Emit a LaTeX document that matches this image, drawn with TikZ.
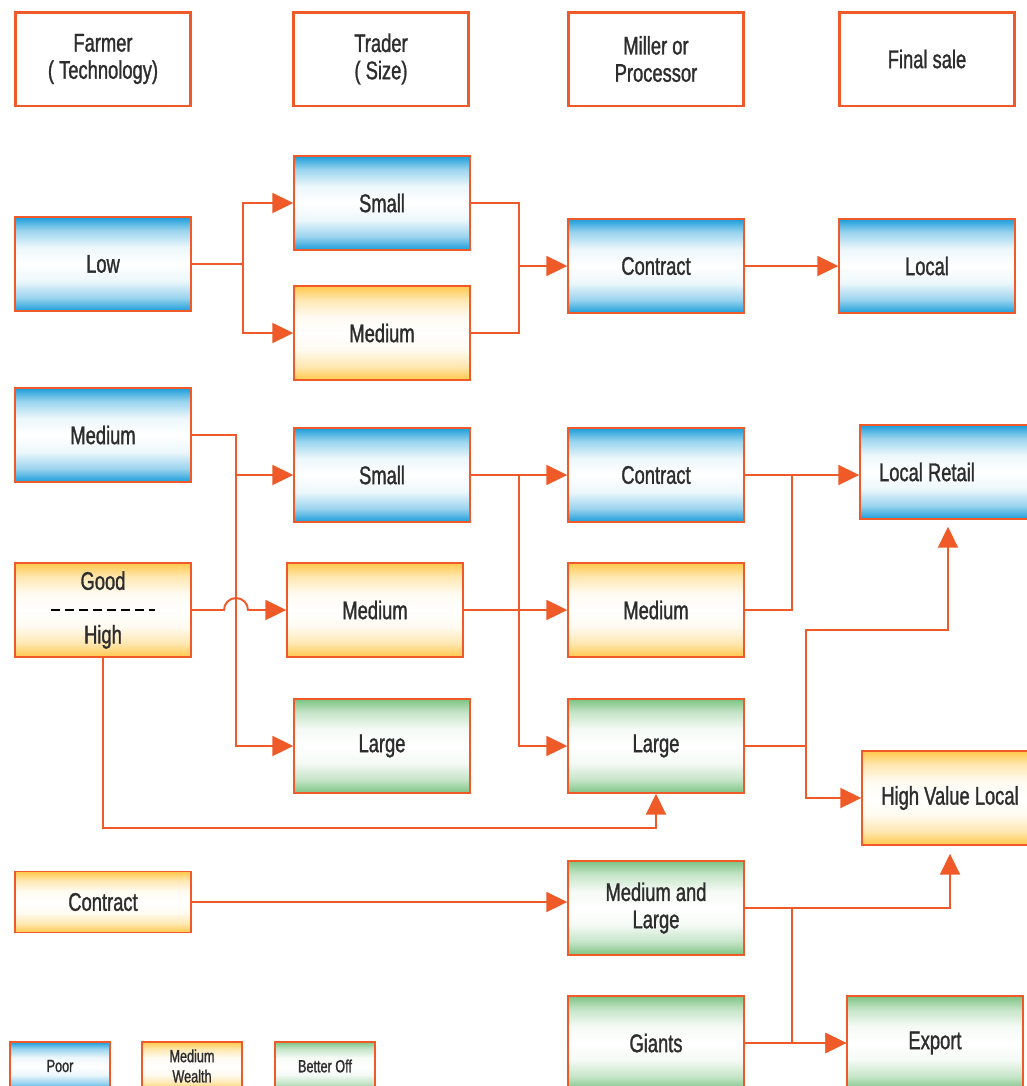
\documentclass[tikz,border=0pt]{standalone}
\usepackage{fontspec}
\setmainfont{Liberation Sans}[FakeStretch=0.72, FakeBold=1.2]
\usepackage{xcolor}
\usetikzlibrary{arrows.meta,positioning}
\definecolor{linkorange}{RGB}{240,90,40}
\definecolor{poorblue}{RGB}{27,157,217}
\definecolor{wealthgold}{RGB}{255,200,74}
\definecolor{betteroff}{RGB}{125,195,131}
\definecolor{textgray}{RGB}{45,45,45}

\pgfdeclareverticalshading{poorshade}{100bp}{color(0bp)=(poorblue); color(25bp)=(poorblue); color(32bp)=(poorblue!45); color(41bp)=(poorblue!8); color(50bp)=(white); color(59bp)=(poorblue!8); color(68bp)=(poorblue!45); color(75bp)=(poorblue); color(100bp)=(poorblue)}
\pgfdeclareverticalshading{wealthshade}{100bp}{color(0bp)=(wealthgold); color(25bp)=(wealthgold); color(32bp)=(wealthgold!45); color(41bp)=(wealthgold!8); color(50bp)=(white); color(59bp)=(wealthgold!8); color(68bp)=(wealthgold!45); color(75bp)=(wealthgold); color(100bp)=(wealthgold)}
\pgfdeclareverticalshading{bettershade}{100bp}{color(0bp)=(betteroff); color(25bp)=(betteroff); color(32bp)=(betteroff!45); color(41bp)=(betteroff!8); color(50bp)=(white); color(59bp)=(betteroff!8); color(68bp)=(betteroff!45); color(75bp)=(betteroff); color(100bp)=(betteroff)}

\begin{document}
\begin{tikzpicture}[x=0.02cm, y=-0.02cm,
    box/.style={rectangle, draw=linkorange, line width=0.8pt, minimum width=3.52cm, minimum height=1.88cm, inner sep=0pt, align=center, text=textgray, font=\fontsize{14.5}{15.5}\selectfont},
    head/.style={box, line width=1.7pt, fill=white},
    poor/.style={box, shade, shading=poorshade},
    wealth/.style={box, shade, shading=wealthshade},
    better/.style={box, shade, shading=bettershade},
    legend/.style={minimum width=2cm, minimum height=0.96cm, font=\fontsize{10}{11.5}\selectfont},
    link/.style={draw=linkorange, line width=1.1pt},
    arrow/.style={link, -{Triangle[length=0.42cm,width=0.4cm]}}
]
    \useasboundingbox (0,0) rectangle (1027,1086);
    \clip (0,0) rectangle (1027,1086);

    % column heads
    \node[head] (farmer) at (103,59) {Farmer\\( Technology)};
    \node[head] (trader) at (381,59) {Trader\\( Size)};
    \node[head] (miller) at (656,59) {Miller or\\Processor};
    \node[head] (final) at (927,59) {Final sale};

    % low technology
    \node[poor] (low) at (103,264) {Low};
    \node[poor] (smallA) at (382,203) {Small};
    \node[wealth] (mediumA) at (382,333) {Medium};
    \node[poor] (contractA) at (656,266) {Contract};
    \node[poor] (local) at (927,266) {Local};

    % medium and good technology
    \node[poor] (mediumF) at (103,435) {Medium};
    \node[wealth] (good) at (103,610) {Good\\[15pt]High};
    \node[wealth, minimum height=1.22cm] (contractF) at (103,902) {Contract};
    \node[poor] (smallB) at (382,475) {Small};
    \node[wealth] (mediumB) at (375,610) {Medium};
    \node[better] (largeB) at (382,746) {Large};
    \node[poor] (contractB) at (656,475) {Contract};
    \node[wealth] (mediumM) at (656,610) {Medium};
    \node[better] (largeM) at (656,746) {Large};
    \node[better] (medlarge) at (656,908) {Medium and\\Large};
    \node[better] (giants) at (656,1043) {Giants};
    \node[poor] (retail) at (948,472) {Local Retail\hspace*{0.84cm}};
    \node[wealth] (hvlocal) at (950,798) {High Value Local};
    \node[better] (export) at (935,1043) {Export};

    \draw[black, line width=1.4pt, dash pattern=on 0.18cm off 0.1cm] ([xshift=-1.04cm]good.center) -- ([xshift=1.04cm]good.center);

    % legend
    \node[poor, legend] (kpoor) at (60,1066) {Poor};
    \node[wealth, legend] (kwealth) at (192,1066) {Medium\\Wealth};
    \node[better, legend] (kbetter) at (325,1066) {Better Off};

    % links
    \coordinate (jLow) at (243,264);
    \draw[link] (low.east) -- (jLow);
    \draw[arrow] (jLow) |- (smallA.west);
    \draw[arrow] (jLow) |- (mediumA.west);
    \coordinate (jTrA) at (519,266);
    \draw[link] (smallA.east) -| (jTrA);
    \draw[link] (mediumA.east) -| (jTrA);
    \draw[arrow] (jTrA) -- (contractA.west);
    \draw[arrow] (contractA) -- (local);

    \coordinate (jMed) at (236,475);
    \draw[link] (mediumF.east) -| (jMed);
    \draw[arrow] (jMed) -- (smallB.west);
    \draw[arrow] (jMed) |- (largeB.west);
    \draw[arrow] (good.east) -- (224,610) arc[start angle=180, end angle=0, radius=0.24cm] -- (mediumB.west);

    \coordinate (jTrB) at (519,475);
    \draw[arrow] (smallB) -- (contractB);
    \draw[arrow] (jTrB) |- (largeM.west);
    \draw[arrow] (mediumB) -- (mediumM);
    \draw[arrow] (contractB.east) -- (contractB.east -| retail.west);
    \draw[link] (mediumM.east) -| (792,475);

    \coordinate (jLarge) at (806,746);
    \draw[link] (largeM.east) -- (jLarge);
    \draw[arrow, shorten >=0.14cm] (jLarge) -- ++(0,-116) -| (retail.south);
    \draw[arrow] (jLarge) |- (hvlocal.west);
    \draw[arrow] (good.south) -- ++(0,170) -| (largeM.south);

    \draw[arrow] (contractF.east) -- (contractF.east -| medlarge.west);
    \draw[arrow, shorten >=0.16cm] (medlarge.east) -| (hvlocal.south);
    \coordinate (jML) at (792,908);
    \draw[arrow] (jML) |- (export.west);
    \draw[arrow] (giants) -- (export);
\end{tikzpicture}
\end{document}
